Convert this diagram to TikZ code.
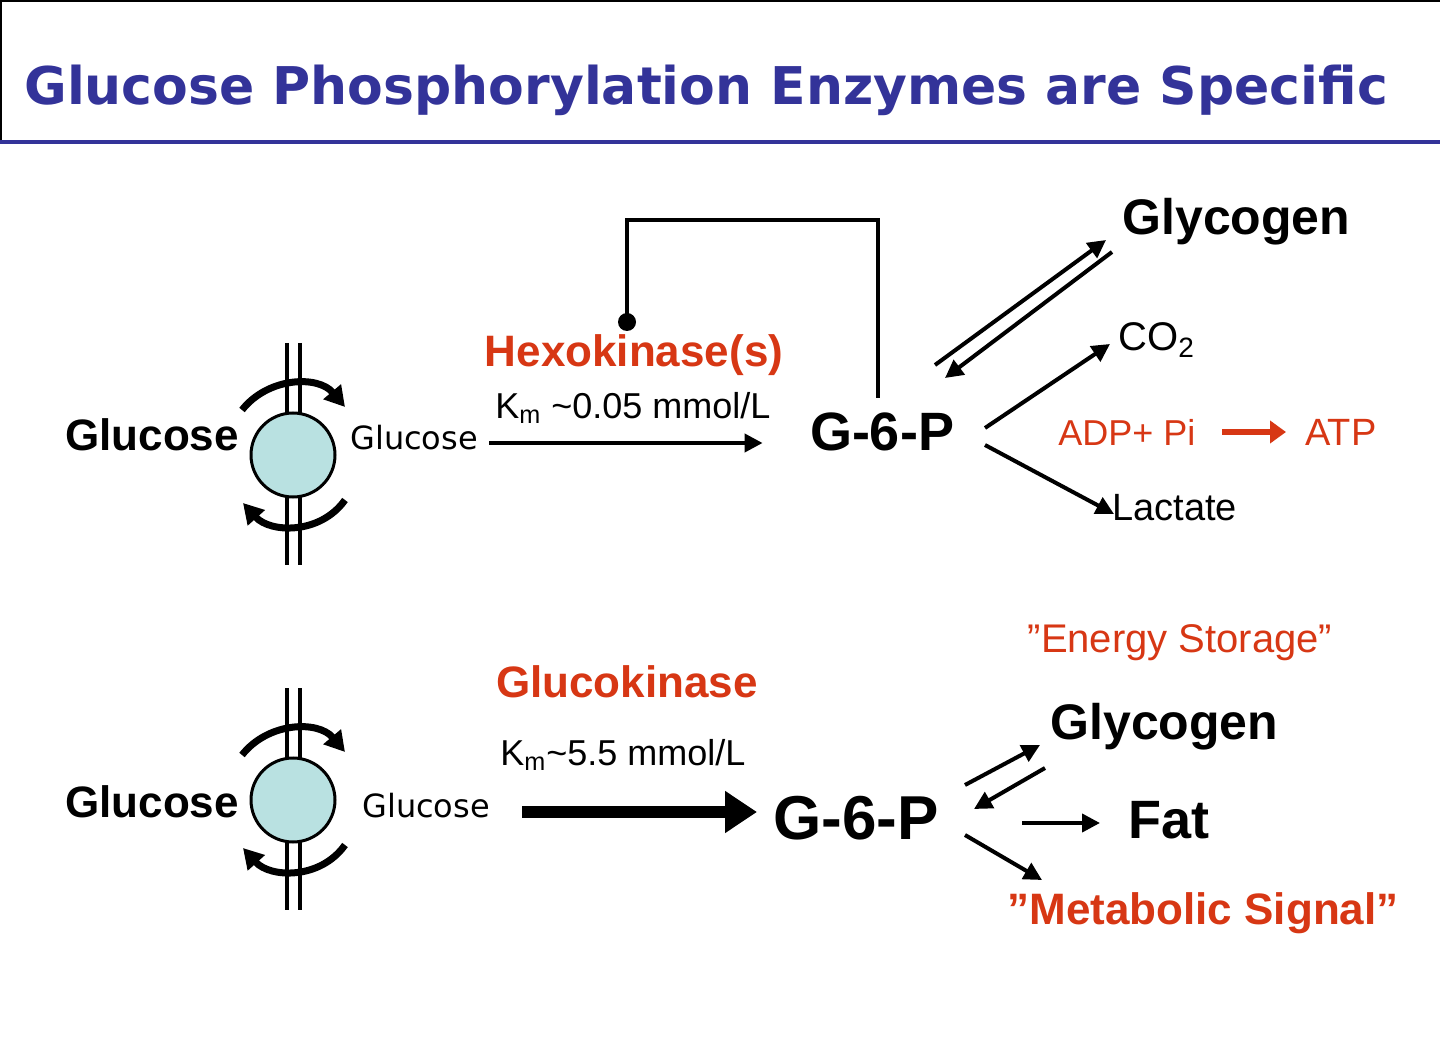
\documentclass[tikz,border=0pt]{standalone}
\usepackage{fontspec}
\setmainfont{Liberation Sans}
\newfontfamily\verd{DejaVu Sans}
\usetikzlibrary{arrows.meta}
\definecolor{ttl}{RGB}{51,51,153}
\definecolor{rd}{RGB}{215,55,20}
\definecolor{cyanf}{RGB}{185,225,225}
\tikzset{
 txt/.style={inner sep=0pt},
 arr/.style={line width=2pt,-{Triangle[length=9pt,width=9pt]}},
 memb/.style={line width=1.8pt},
 turn/.style={line width=3.5pt,-{Triangle[length=10pt,width=11pt]}},
}
\begin{document}
\begin{tikzpicture}[x=0.5pt,y=-0.5pt]
\useasboundingbox (0,0) rectangle (1440,1063);
\fill[white] (0,0) rectangle (1440,1063);
% title
\draw[line width=1pt] (1,142) -- (1,1) -- (1440,1);
\draw[ttl,line width=1.6pt] (0,142) -- (1440,142);
\node[txt,anchor=west,text=ttl,font=\verd\bfseries\fontsize{26}{26}\selectfont] (title) at (24,90) {Glucose Phosphorylation Enzymes are Specific};
% transporters
\foreach \n/\y in {a/455,b/800}{
 \draw[memb] (287,\y-112) -- (287,\y+110);
 \draw[memb] (300,\y-112) -- (300,\y+110);
 \node[circle,draw,line width=1.5pt,fill=cyanf,minimum size=42pt,inner sep=0pt] (tr\n) at (293,\y) {};
 \draw[turn] (242,\y-45) .. controls (268,\y-78) and (318,\y-80) .. (345,\y-48);
 \draw[turn] (345,\y+45) .. controls (320,\y+80) and (270,\y+78) .. (243,\y+48);
}
% top row
\node[txt,font=\bfseries\fontsize{22}{22}\selectfont] (glo1) at (152,435) {Glucose};
\node[txt,anchor=west,font=\verd\fontsize{16}{16}\selectfont] (gli1) at (350,438) {Glucose};
\node[txt] (a1s) at (488,443) {};
\node[txt] (a1e) at (764,443) {};
\draw[arr] (a1s) -- (a1e);
\node[txt,text=rd,font=\bfseries\fontsize{22}{22}\selectfont] (hex) at (634,355) {Hexokinase(s)};
\node[txt,anchor=west,font=\fontsize{18}{18}\selectfont] (km1) at (495,408) {K\textsubscript{m} \textasciitilde0.05 mmol/L};
\node[txt,font=\bfseries\fontsize{27}{27}\selectfont] (g6p1) at (882,432) {G-6-P};
\coordinate (fb0) at (878,398);
\coordinate (fb1) at (627,322);
\draw[line width=2pt] (fb0) -- (878,220) -- (627,220) -- (fb1);
\fill (fb1) circle (4.5pt);
\node[txt,anchor=west,font=\bfseries\fontsize{25}{25}\selectfont] (gly1) at (1122,222) {Glycogen};
\node[txt,anchor=west,font=\fontsize{20}{20}\selectfont] (co2) at (1118,340) {CO\textsubscript{2}};
\node[txt,anchor=west,text=rd,font=\fontsize{18}{18}\selectfont] (adp) at (1058,432) {ADP+ Pi};
\node[txt,anchor=west,text=rd,font=\fontsize{19}{19}\selectfont] (atp) at (1305,432) {ATP};
\draw[rd,line width=3pt,-{Triangle[length=8pt,width=11pt]}] (1222,432) -- (1286,432);
\node[txt,anchor=west,font=\fontsize{19}{19}\selectfont] (lac) at (1112,508) {Lactate};
\draw[arr] (935,365) -- (1106,240);
\draw[arr] (1112,252) -- (945,378);
\draw[arr] (985,428) -- (1110,344);
\draw[arr] (985,445) -- (1114,514);
% bottom row
\node[txt,font=\bfseries\fontsize{22}{22}\selectfont] (glo2) at (152,802) {Glucose};
\node[txt,anchor=west,font=\verd\fontsize{16}{16}\selectfont] (gli2) at (362,806) {Glucose};
\draw[line width=6pt,-{Triangle[length=16pt,width=20pt]}] (522,812) -- (757,812);
\node[txt,text=rd,font=\bfseries\fontsize{22}{22}\selectfont] (gk) at (627,682) {Glucokinase};
\node[txt,anchor=west,font=\fontsize{18}{18}\selectfont] (km2) at (500,755) {K\textsubscript{m}\textasciitilde5.5 mmol/L};
\node[txt,font=\bfseries\fontsize{31}{31}\selectfont] (g6p2) at (856,818) {G-6-P};
\node[txt,text=rd,font=\fontsize{20}{20}\selectfont] (es) at (1180,643) {"Energy Storage"};
\node[txt,anchor=west,font=\bfseries\fontsize{25}{25}\selectfont] (gly2) at (1050,727) {Glycogen};
\node[txt,anchor=west,font=\bfseries\fontsize{27}{27}\selectfont] (fat) at (1128,820) {Fat};
\node[txt,text=rd,font=\bfseries\fontsize{22}{22}\selectfont] (ms) at (1203,913) {"Metabolic Signal"};
\draw[arr] (965,785) -- (1040,745);
\draw[arr] (1045,768) -- (974,809);
\draw[arr] (1022,823) -- (1100,823);
\draw[arr] (965,835) -- (1042,880);
\end{tikzpicture}
\end{document}
